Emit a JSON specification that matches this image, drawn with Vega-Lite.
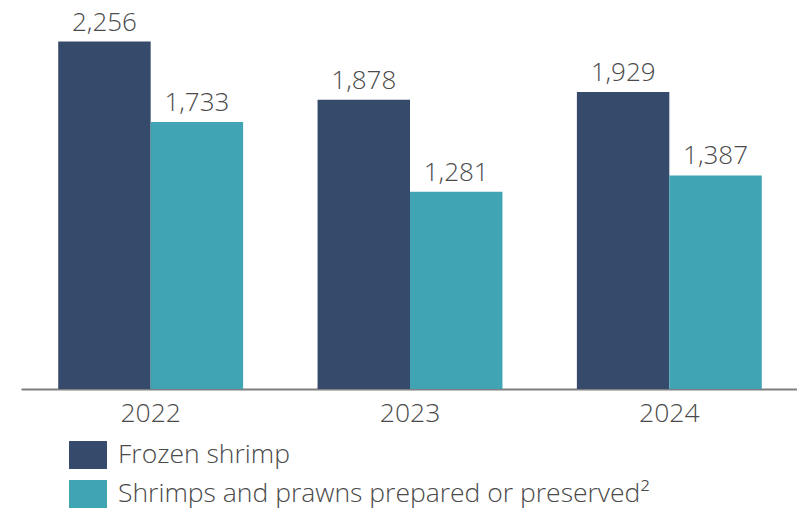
{
  "$schema": "https://vega.github.io/schema/vega-lite/v6.json",
  "width": 778,
  "height": 389,
  "autosize": "none",
  "padding": {"left": 21, "top": 0, "right": 0, "bottom": 121},
  "background": "white",
  "config": {"view": {"stroke": null}, "font": "Open Sans"},
  "data": {"values": [
    {"year": "2022", "product": "Frozen shrimp", "value": 2256},
    {"year": "2022", "product": "Shrimps and prawns prepared or preserved²", "value": 1733},
    {"year": "2023", "product": "Frozen shrimp", "value": 1878},
    {"year": "2023", "product": "Shrimps and prawns prepared or preserved²", "value": 1281},
    {"year": "2024", "product": "Frozen shrimp", "value": 1929},
    {"year": "2024", "product": "Shrimps and prawns prepared or preserved²", "value": 1387}
  ]},
  "encoding": {
    "x": {"field": "year", "type": "nominal", "scale": {"paddingInner": 0.287, "paddingOuter": 0.1435},
      "axis": {"title": null, "labelAngle": 0, "labelFontSize": 26.5, "labelColor": "#4a4a4a", "labelFont": "Open Sans", "labelFontWeight": 300, "labelPadding": 11, "ticks": false, "domainColor": "#7f7f7f", "domainWidth": 2}},
    "xOffset": {"field": "product", "type": "nominal", "sort": ["Frozen shrimp", "Shrimps and prawns prepared or preserved²"]},
    "y": {"field": "value", "type": "quantitative", "scale": {"domain": [0, 2526]}, "axis": null}
  },
  "layer": [
    {"mark": {"type": "bar"},
     "encoding": {"color": {"field": "product", "type": "nominal",
       "scale": {"domain": ["Frozen shrimp", "Shrimps and prawns prepared or preserved²"], "range": ["#364b6b", "#40a4b5"]},
       "legend": {"title": null, "orient": "none", "legendX": 48, "legendY": 436, "padding": 0,
         "symbolType": "M-1,-0.737H1V0.737H-1Z", "symbolSize": 1444, "symbolStrokeWidth": 0, "symbolOpacity": 1,
         "labelFontSize": 26.5, "labelFont": "Open Sans", "labelFontWeight": 300, "labelColor": "#4a4a4a", "labelOffset": 11, "rowPadding": 5, "labelLimit": 700}}}},
    {"mark": {"type": "text", "baseline": "alphabetic", "dy": -11, "fontSize": 26, "font": "Open Sans", "fontWeight": 300, "color": "#4a4a4a"},
     "encoding": {"text": {"field": "value", "type": "quantitative", "format": ","}}}
  ]
}
